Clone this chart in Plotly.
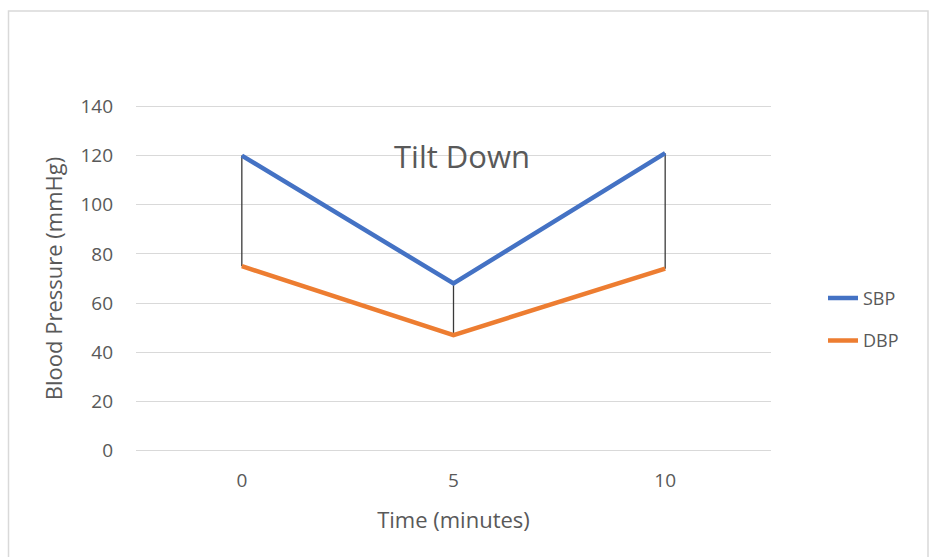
import plotly.graph_objects as go

# Data
time_labels = ["0", "5", "10"]
sbp = [120, 68, 121]
dbp = [75, 47, 74]
y_ticks = [0, 20, 40, 60, 80, 100, 120, 140]

xpos = list(range(len(time_labels)))

FONT = "Open Sans"
TXT = "#595959"

fig = go.Figure()

# high-low lines
hx, hy = [], []
for i, (s, d) in enumerate(zip(sbp, dbp)):
    hx += [i, i, None]
    hy += [d, s, None]
fig.add_trace(go.Scatter(x=hx, y=hy, mode="lines",
                         line=dict(color="#3a3a3a", width=1.3),
                         showlegend=False, hoverinfo="skip"))

fig.add_trace(go.Scatter(x=xpos, y=sbp, mode="lines", name="SBP",
                         line=dict(color="#4472C4", width=4.5),
                         legendgroup="a"))
fig.add_trace(go.Scatter(x=xpos, y=dbp, mode="lines", name="DBP",
                         line=dict(color="#ED7D31", width=4.5),
                         legendgroup="b"))

T, B = 104, 104
H = 557 - T - B
fig.update_layout(
    width=929, height=557,
    margin=dict(l=136, r=158, t=T, b=B),
    paper_bgcolor="white", plot_bgcolor="white",
    font=dict(family=FONT, color=TXT, size=19),
    title=dict(text="Tilt Down", x=462/929, xanchor="center",
               y=1 - 157/557, yanchor="middle",
               font=dict(family=FONT, size=31, color=TXT)),
    xaxis=dict(range=[-0.5, 2.5], tickvals=xpos, ticktext=time_labels,
               showgrid=False, zeroline=False, showline=False,
               ticks="", ticklabelstandoff=14,
               title=dict(text="Time (minutes)", font=dict(size=22), standoff=20),
               tickfont=dict(size=19)),
    yaxis=dict(range=[-1, 141], tickvals=y_ticks,
               showgrid=True, gridcolor="#D9D9D9", gridwidth=1.3,
               zeroline=True, zerolinecolor="#D9D9D9", zerolinewidth=1.3,
               showline=False, ticks="",
               ticklabelstandoff=22,
               title=dict(text="Blood Pressure (mmHg)", font=dict(size=22), standoff=11),
               tickfont=dict(size=19)),
    legend=dict(x=(823-136)/635, xanchor="left", y=0.383, yanchor="middle",
                tracegroupgap=16, traceorder="grouped",
                font=dict(size=18, color=TXT), bgcolor="rgba(0,0,0,0)"),
    shapes=[dict(type="rect", xref="paper", yref="paper",
                 x0=(8.5-136)/635, x1=(928-136)/635,
                 y0=-(570-(557-B))/H, y1=1 + (T-11)/H,
                 line=dict(color="#D9D9D9", width=1.5), fillcolor="rgba(0,0,0,0)",
                 layer="below")],
)

fig.write_html("out.html", config={"displayModeBar": False},
               post_script="document.body.style.margin='0';document.body.style.overflow='hidden';")
